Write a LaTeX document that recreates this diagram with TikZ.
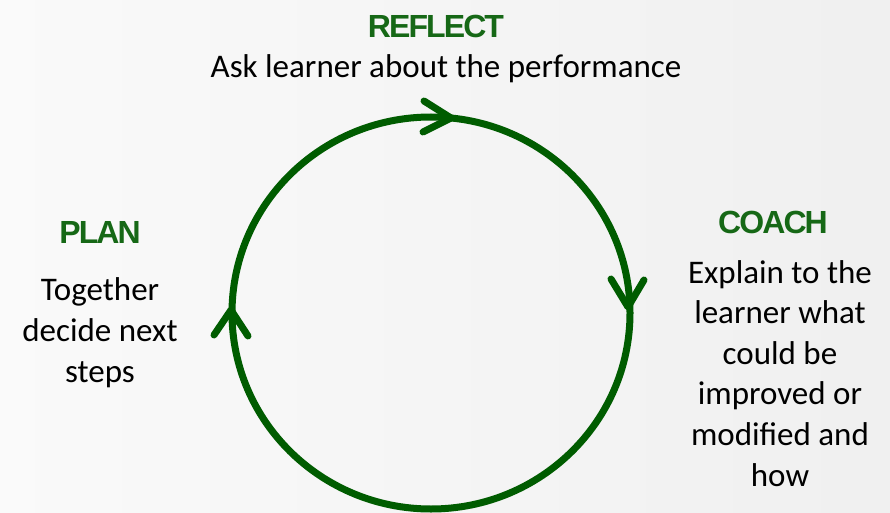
\documentclass[tikz,border=0pt]{standalone}
\usepackage{fontspec}
\setmainfont{Carlito}
\newfontfamily\headfont[LetterSpace=-6]{Liberation Sans Bold}
\definecolor{cyclegreen}{RGB}{0,92,0}
\definecolor{headgreen}{RGB}{22,104,22}
\begin{document}
\begin{tikzpicture}[x=1pt,y=-1pt,
  heading/.style={font=\headfont\fontsize{32}{36}\selectfont, text=headgreen, inner sep=0pt, anchor=base},
  bodytext/.style={font=\fontsize{33}{40.6}\selectfont, text=black, inner sep=0pt, align=center, anchor=base},
  ring/.style={draw=cyclegreen, line width=7pt},
  chevron/.style={draw=cyclegreen, line width=7pt, line cap=round, line join=round}]
\useasboundingbox (0,0) rectangle (890,513);
\shade[left color=gray!4, right color=gray!12] (0,0) rectangle (890,513);
% cycle
\draw[ring] (431,313) ellipse [x radius=199pt, y radius=196pt];
\coordinate (toptip) at (451,118);
\coordinate (righttip) at (628,307);
\coordinate (lefttip) at (231,310);
\draw[chevron] (424,101) -- (toptip) -- (423,132);
\draw[chevron] (611,279) -- (righttip) -- (644,280);
\draw[chevron] (214,335) -- (lefttip) -- (248,336);
% labels (base of a multi-line text = baseline of its last line)
\node[heading] (reflect) at (436,38) {REFLECT};
\node[bodytext] (reflecttext) at (446,78) {Ask learner about the performance};
\node[heading] (coach) at (773,233) {COACH};
\node[bodytext] (coachtext) at (780,486) {Explain to the\\learner what\\could be\\improved or\\modified and\\how};
\node[heading] (plan) at (100,243) {PLAN};
\node[bodytext] (plantext) at (100,382) {Together\\decide next\\steps};
\end{tikzpicture}
\end{document}
